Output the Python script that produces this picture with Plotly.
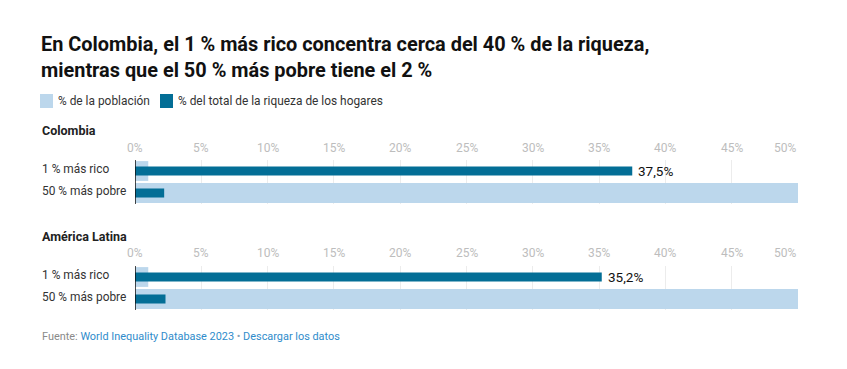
import plotly.graph_objects as go

W, H = 847, 369
OFF = 8  # page body margin offset

categories = ["1 % más rico", "50 % más pobre"]
panels = ["Colombia", "América Latina"]
poblacion = {"Colombia": [1, 50], "América Latina": [1, 50]}
riqueza = {"Colombia": [37.5, 2.2], "América Latina": [35.2, 2.3]}
tick_vals = [0, 5, 10, 15, 20, 25, 30, 35, 40, 45, 50]
tick_text = [f"{v}%" for v in tick_vals]

LIGHT = "#bcd7ec"
DARK = "#036e96"
FONT = "Roboto"

def py(p):
    return 1 - (p - OFF) / H

def px(p):
    return (p - OFF) / W

# pixel layout of the panels: (title_y, tick_y, bar_top, bar_bottom)
panel_px = [(130, 148, 160, 204), (236, 253, 266, 310)]
x0_px, x1_px = 135, 798

fig = go.Figure()
annotations = []
shapes = []

for i, name in enumerate(panels):
    xa = "x" if i == 0 else f"x{i+1}"
    ya = "y" if i == 0 else f"y{i+1}"
    title_y, tick_y, top, bot = panel_px[i]
    fig.add_trace(go.Bar(
        x=poblacion[name], y=[0, 1], orientation="h", width=0.9,
        marker=dict(color=LIGHT, line=dict(width=0)), name="% de la población",
        xaxis=xa, yaxis=ya, showlegend=False, hoverinfo="x"))
    fig.add_trace(go.Bar(
        x=riqueza[name], y=[0, 1], orientation="h", width=0.41,
        marker=dict(color=DARK, line=dict(width=0)),
        name="% del total de la riqueza de los hogares",
        xaxis=xa, yaxis=ya, showlegend=False, hoverinfo="x"))
    axkey = "xaxis" if i == 0 else f"xaxis{i+1}"
    aykey = "yaxis" if i == 0 else f"yaxis{i+1}"
    fig.update_layout(**{
        axkey: dict(domain=[px(x0_px), px(x1_px)], range=[0, 50], anchor=ya,
                    tickvals=tick_vals, showticklabels=False, showgrid=True,
                    gridcolor="#ececec", gridwidth=1, zeroline=False,
                    showline=False, ticks="", fixedrange=True),
        aykey: dict(domain=[py(bot), py(top)], range=[1.5, -0.5], anchor=xa,
                    visible=False, fixedrange=True),
    })
    # zero line
    shapes.append(dict(type="line", xref=xa, yref=f"{ya} domain", x0=0, x1=0,
                       y0=0, y1=1, line=dict(color="#111", width=1.5), layer="above"))
    # panel title
    annotations.append(dict(text=f"<b>{name}</b>", xref="paper", yref="paper",
                            x=px(40), y=py(title_y), xanchor="left", yanchor="middle",
                            showarrow=False, font=dict(family=FONT, size=12.5, color="#222")))
    # tick labels
    for v, t in zip(tick_vals, tick_text):
        annotations.append(dict(text=t, xref=xa, yref="paper", x=v, y=py(tick_y),
                                xanchor="right" if v == tick_vals[-1] else "center",
                                yanchor="middle", showarrow=False,
                                font=dict(family=FONT, size=12, color="#bdbdbd")))
    # category labels
    for j, c in enumerate(categories):
        annotations.append(dict(text=c, xref="paper", yref=ya, x=px(40), y=j,
                                xanchor="left", yanchor="middle", showarrow=False,
                                yshift=2,
                                font=dict(family=FONT, size=11.9, color="#333")))
    # value label on richest
    v = riqueza[name][0]
    annotations.append(dict(text=f"{v:.1f}%".replace(".", ","), xref=xa, yref=ya,
                            x=v, y=0, xanchor="left", yanchor="middle", xshift=4,
                            showarrow=False, font=dict(family=FONT, size=13.5, color="#111")))

# title
annotations.append(dict(
    text="<b>En Colombia, el 1 % más rico concentra cerca del 40 % de la riqueza,<br>"
         "mientras que el 50 % más pobre tiene el 2 %</b>",
    xref="paper", yref="paper", x=px(39), y=py(57.5), xanchor="left", yanchor="middle",
    align="left", showarrow=False, font=dict(family=FONT, size=19.9, color="#111")))

# legend (manual)
legend_items = [("% de la población", LIGHT, 40), ("% del total de la riqueza de los hogares", DARK, 160)]
for label, col, lx in legend_items:
    shapes.append(dict(type="rect", xref="paper", yref="paper", x0=px(lx), x1=px(lx + 13),
                       y0=py(108), y1=py(94), fillcolor=col, line=dict(width=0)))
    annotations.append(dict(text=label, xref="paper", yref="paper", x=px(lx + 16), y=py(101),
                            xanchor="left", yanchor="middle", showarrow=False,
                            font=dict(family=FONT, size=11.9, color="#333")))

# footer
annotations.append(dict(
    text="<span style='color:#8a8a8a'>Fuente: </span>"
         "<span style='color:#2f8ccb'>World Inequality Database 2023</span>"
         "<span style='color:#8aa4b8'> • </span>"
         "<span style='color:#2f8ccb'>Descargar los datos</span>",
    xref="paper", yref="paper", x=px(40), y=py(336), xanchor="left", yanchor="middle",
    showarrow=False, font=dict(family=FONT, size=10.9)))

fig.update_layout(
    width=W, height=H, margin=dict(l=0, r=0, t=0, b=0),
    paper_bgcolor="white", plot_bgcolor="white",
    barmode="overlay", showlegend=False,
    annotations=annotations, shapes=shapes,
    font=dict(family=FONT),
)

fig.write_html("out.html")
